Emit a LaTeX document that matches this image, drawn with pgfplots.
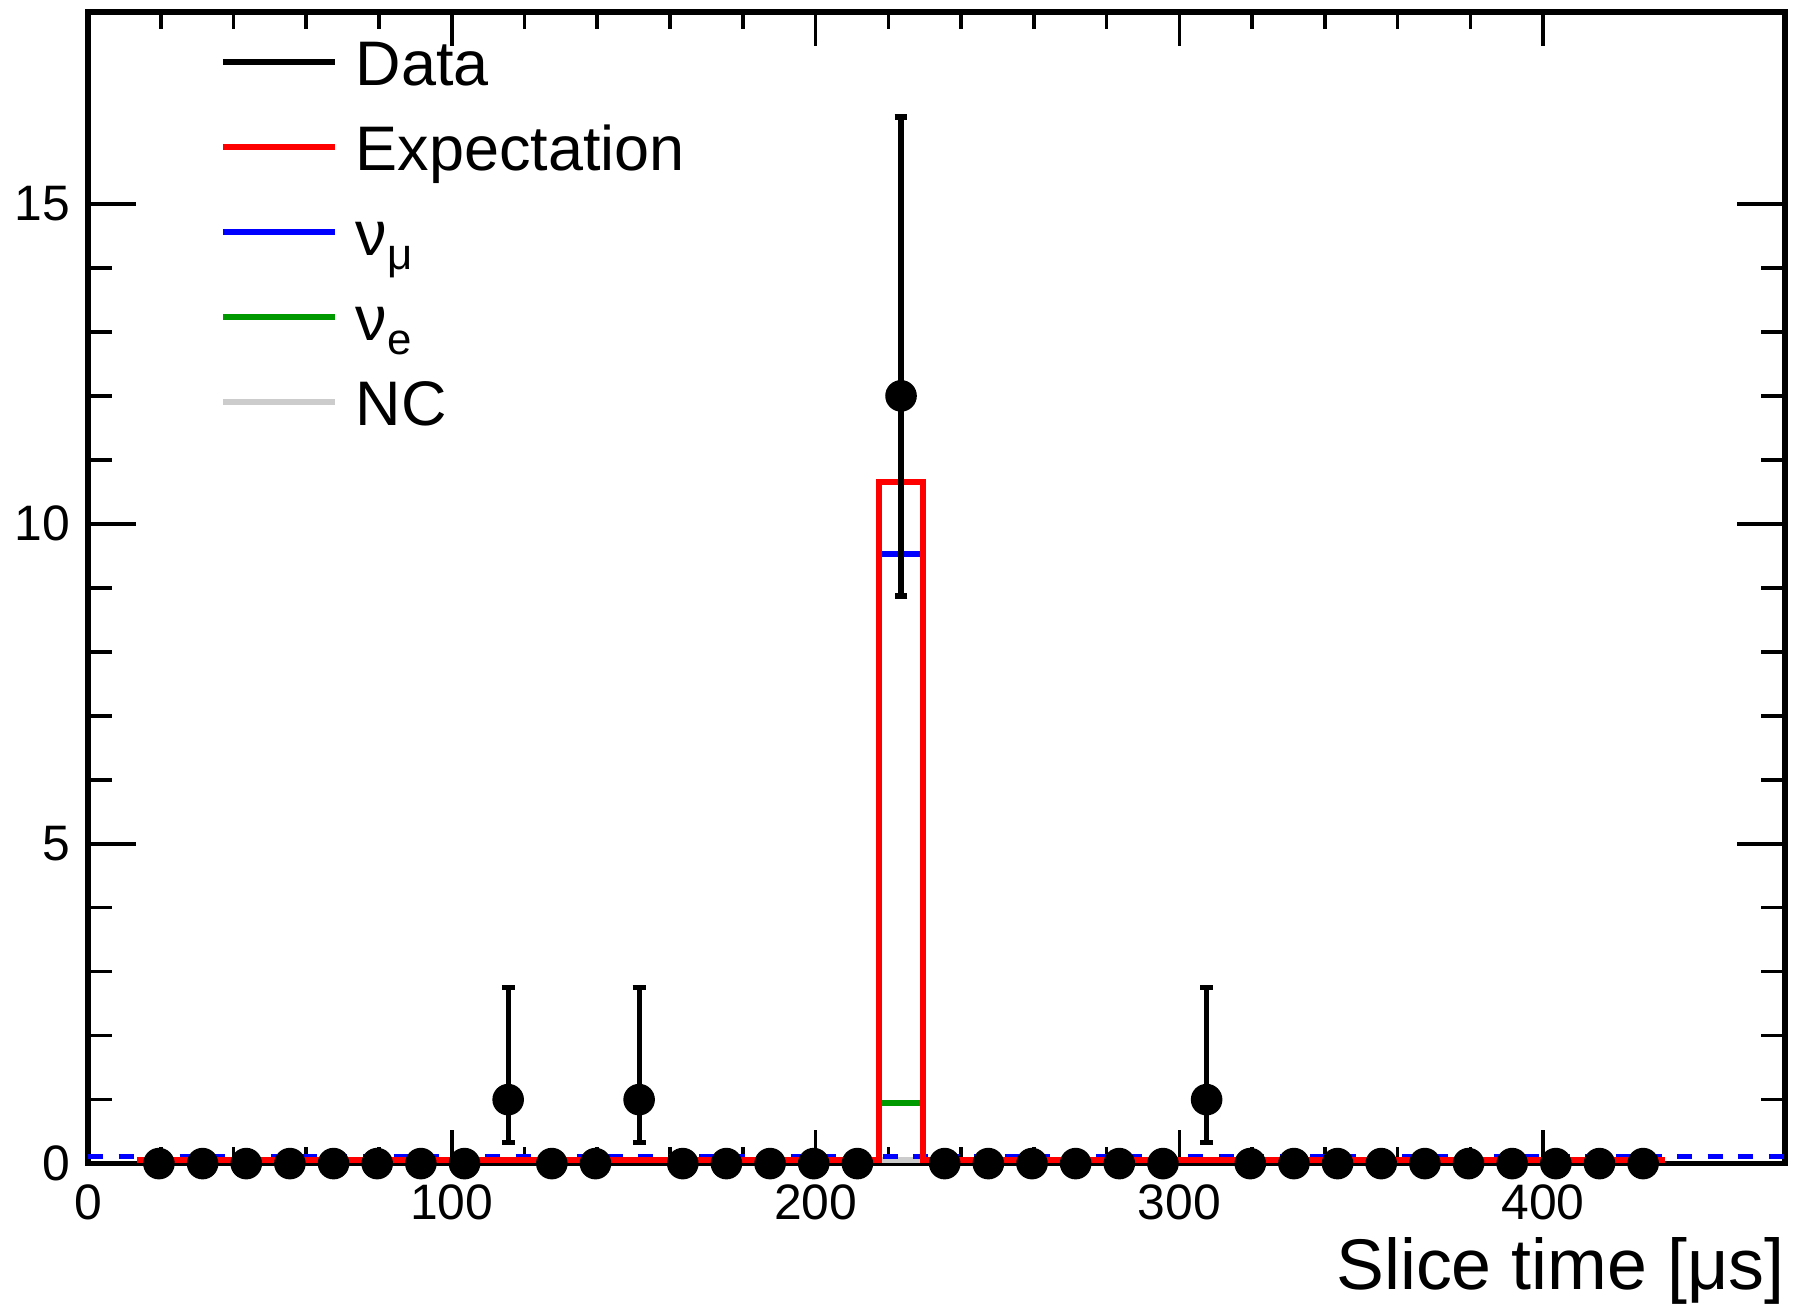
\documentclass[border=0pt]{standalone}
\usepackage{fontspec}
\setmainfont{Liberation Sans}
\usepackage{pgfplots}
\pgfplotsset{compat=1.18}
\usepackage{pgfplotstable}

\definecolor{rootgreen}{RGB}{0,153,0}
\definecolor{rootgray}{RGB}{204,204,204}

% data: bin centre, count, lower / upper error
\pgfplotstableread{
x      y    em     ep
19.5   0    0      0
31.5   0    0      0
43.5   0    0      0
55.5   0    0      0
67.5   0    0      0
79.5   0    0      0
91.5   0    0      0
103.5  0    0      0
115.5  1    0.67   1.75
127.5  0    0      0
139.5  0    0      0
151.5  1    0.67   1.75
163.5  0    0      0
175.5  0    0      0
187.5  0    0      0
199.5  0    0      0
211.5  0    0      0
223.5  12   3.13   4.36
235.5  0    0      0
247.5  0    0      0
259.5  0    0      0
271.5  0    0      0
283.5  0    0      0
295.5  0    0      0
307.5  1    0.67   1.75
319.5  0    0      0
331.5  0    0      0
343.5  0    0      0
355.5  0    0      0
367.5  0    0      0
379.5  0    0      0
391.5  0    0      0
403.5  0    0      0
415.5  0    0      0
427.5  0    0      0
}\datatable

% expectation, bin low edges (last row closes the last bin)
\pgfplotstableread{
x      y
13.5   0.06
25.5   0.06
37.5   0.06
49.5   0.06
61.5   0.06
73.5   0.06
85.5   0.06
97.5   0.06
109.5  0.06
121.5  0.06
133.5  0.06
145.5  0.06
157.5  0.06
169.5  0.06
181.5  0.06
193.5  0.06
205.5  0.06
217.5  10.66
229.5  0.06
241.5  0.06
253.5  0.06
265.5  0.06
277.5  0.06
289.5  0.06
301.5  0.06
313.5  0.06
325.5  0.06
337.5  0.06
349.5  0.06
361.5  0.06
373.5  0.06
385.5  0.06
397.5  0.06
409.5  0.06
421.5  0.06
433.5  0.06
}\exptable

\begin{document}
\begin{tikzpicture}
\begin{axis}[
    width=424.25bp, height=287.9bp, scale only axis,
    xmin=0, xmax=466.5, ymin=0, ymax=18,
    xtick={0,100,200,300,400}, minor x tick num=4,
    ytick={0,5,10,15}, minor y tick num=4,
    tick align=inside, tick pos=both,
    axis line style={line width=1.4bp},
    tick style={black, line width=0.9bp},
    xtick style={/pgfplots/major tick length=8.5bp, /pgfplots/minor tick length=4.25bp},
    ytick style={/pgfplots/major tick length=12bp, /pgfplots/minor tick length=6bp},
    /pgf/number format/assume math mode=true,
    tick label style={font=\fontsize{12.5}{14}\selectfont},
    xticklabel style={anchor=north, inner sep=0pt, yshift=-5bp},
    yticklabel style={anchor=east, inner sep=0pt, xshift=-4.25bp},
    xlabel={Slice time [μs]},
    xlabel style={at={(axis description cs:1,0)}, anchor=base east,
        yshift=-31.5bp, inner sep=0pt, font=\fontsize{18}{20}\selectfont},
    legend style={draw=none, fill=none, at={(axis description cs:0,1)},
        anchor=north west, xshift=33bp, yshift=-6.5bp,
        inner sep=0pt, outer sep=0pt, row sep=5.25bp,
        font=\fontsize{15.8}{18}\selectfont,
        nodes={inner sep=0pt, text height=12bp, text depth=4bp},
        /tikz/every odd column/.append style={column sep=4.5bp}},
    legend cell align=left,
    legend image code/.code={\draw[#1] (0bp,2bp) -- (28bp,2bp);},
]
    \addlegendimage{black, line width=1.4bp}
    \addlegendentry{Data}
    \addlegendimage{red, line width=1.4bp}
    \addlegendentry{Expectation}
    \addlegendimage{blue, line width=1.4bp}
    \addlegendentry{ν\raisebox{-3.5bp}{\fontsize{11}{11}\selectfont μ}}
    \addlegendimage{rootgreen, line width=1.4bp}
    \addlegendentry{ν\raisebox{-3.5bp}{\fontsize{11}{11}\selectfont e}}
    \addlegendimage{rootgray, line width=1.4bp}
    \addlegendentry{NC}

    %% components in the peak bin
    \addplot[forget plot, rootgray, line width=1.4bp] coordinates {(217.5,0.06) (229.5,0.06)};
    \addplot[forget plot, blue, line width=1.3bp, dash pattern=on 3.75bp off 3.89bp]
        coordinates {(0,0.11) (466.5,0.11)};
    \addplot[forget plot, blue, line width=1.4bp] coordinates {(217.5,9.53) (229.5,9.53)};
    \addplot[forget plot, rootgreen, line width=1.4bp] coordinates {(217.5,0.95) (229.5,0.95)};

    %% expectation
    \addplot[forget plot, red, line width=1.5bp, const plot, mark=none] table[x=x, y=y] {\exptable};

    %% data
    \addplot[forget plot, black, only marks, mark=*, mark size=3.75bp,
        error bars/.cd, y dir=both, y explicit,
        error bar style={line width=1.3bp},
        error mark options={rotate=90, line width=1.4bp, mark size=1.6bp}]
        table[x=x, y=y, y error minus=em, y error plus=ep] {\datatable};
\end{axis}
\pgfresetboundingbox
\path ([shift={(-22bp,-35.1bp)}]current axis.south west) rectangle ([shift={(2.75bp,3bp)}]current axis.north east);
\end{tikzpicture}
\end{document}
